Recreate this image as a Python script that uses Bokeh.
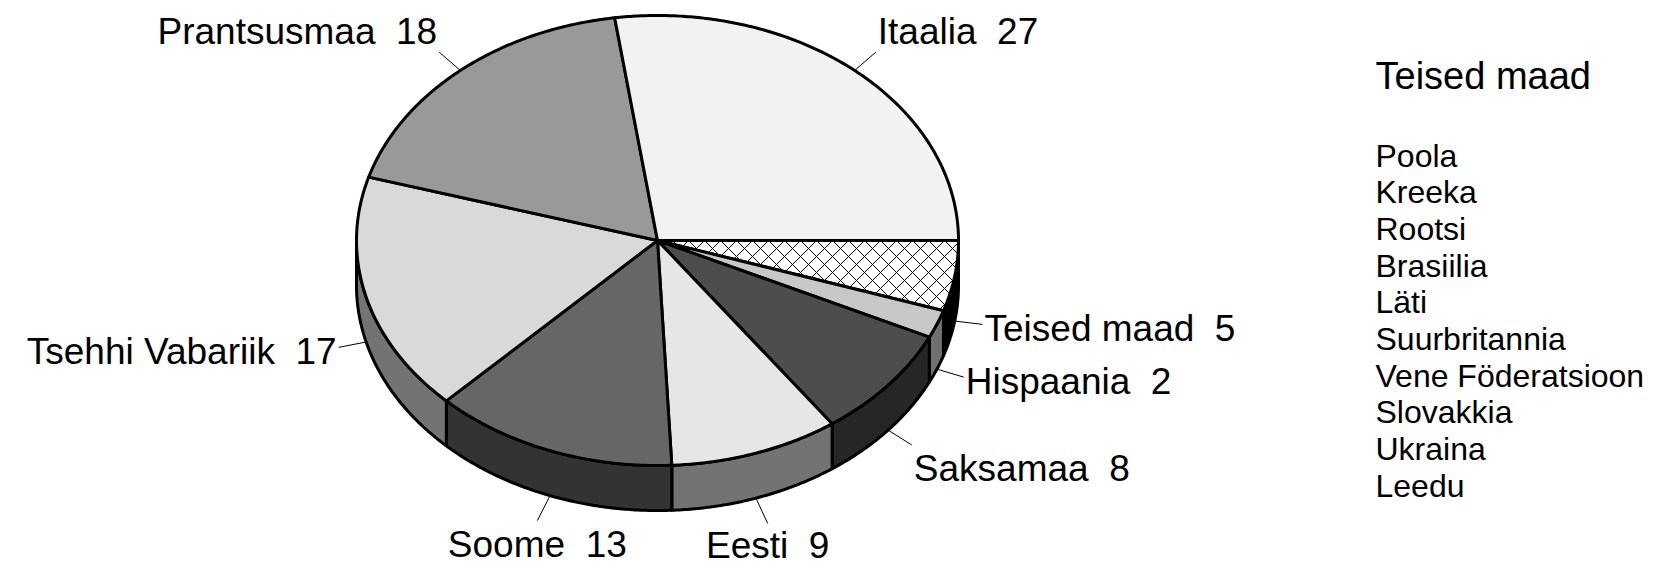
import numpy as np
from bokeh.plotting import figure
from bokeh.models import Range1d, ColumnDataSource
from bokeh.embed import file_html
from bokeh.resources import INLINE
from bokeh.core.properties import value, field

# ---- data -------------------------------------------------------------
countries = ["Teised maad", "Hispaania", "Saksamaa", "Eesti", "Soome",
             "Tsehhi Vabariik", "Prantsusmaa", "Itaalia"]
shares = [5, 2, 8, 9, 13, 17, 18, 27]
top_colors = ["#ffffff", "#c8c8c8", "#4d4d4d", "#e6e6e6", "#666666",
              "#d9d9d9", "#999999", "#f2f2f2"]
side_colors = ["#000000", "#707070", "#262626", "#737373", "#333333",
               "#737373", "#4d4d4d", "#797979"]
other_title = "Teised maad"
other_countries = ["Poola", "Kreeka", "Rootsi", "Brasiilia", "Läti",
                   "Suurbritannia", "Vene Föderatsioon", "Slovakkia",
                   "Ukraina", "Leedu"]

# ---- layout (screen-pixel space) ---------------------------------------
W, H = 1653, 566
CX, CY, RX, RY, DEPTH = 657, 240, 301, 225, 45
LEAD = 28
FONT = value("Liberation Sans")
LABEL_SIZE = 37

p = figure(width=W, height=H, x_range=Range1d(0, W), y_range=Range1d(H, 0),
           output_backend="svg", toolbar_location=None,
           x_axis_location=None, y_axis_location=None, min_border=0)
p.grid.grid_line_color = None
p.outline_line_color = None
p.background_fill_color = "white"

total = float(sum(shares))
cum = np.concatenate([[0.0], np.cumsum(shares)]) / total * 360.0


def arc(a1, a2, dy=0.0):
    n = max(int(abs(a2 - a1) * 2) + 2, 3)
    t = np.radians(np.linspace(a1, a2, n))
    return CX + RX * np.cos(t), CY + RY * np.sin(t) + dy


# sides (front half only)
sx, sy, sc = [], [], []
for i in range(len(shares)):
    s, e = max(cum[i], 0.0), min(cum[i + 1], 180.0)
    if s < e:
        x1, y1 = arc(s, e)
        x2, y2 = arc(e, s, DEPTH)
        sx.append(list(np.concatenate([x1, x2])))
        sy.append(list(np.concatenate([y1, y2])))
        sc.append(side_colors[i])
p.patches(xs=sx, ys=sy, fill_color=sc, line_color="black", line_width=3,
          line_join="round")

# tops
tx, ty, tc = [], [], []
for i in range(len(shares)):
    x1, y1 = arc(cum[i], cum[i + 1])
    tx.append([CX] + list(x1))
    ty.append([CY] + list(y1))
    tc.append(top_colors[i])
hatch = ["x" if i == 0 else " " for i in range(len(shares))]
p.patches(xs=tx, ys=ty, fill_color=tc, hatch_pattern=hatch, hatch_color="black",
          hatch_scale=16, hatch_weight=1, line_color="black", line_width=3,
          line_join="round")

# leaders and labels
lx0, ly0, lx1, ly1 = [], [], [], []
txs, tys, texts, aligns, bases = [], [], [], [], []
for i in range(len(shares)):
    mid = np.radians((cum[i] + cum[i + 1]) / 2)
    c, s = np.cos(mid), np.sin(mid)
    x0 = CX + RX * c
    y0 = CY + RY * s + (DEPTH if s > 0 else 0)
    dx, dy = RX * c, RY * s
    nrm = np.hypot(dx, dy)
    x1 = x0 + LEAD * dx / nrm
    y1 = y0 + LEAD * dy / nrm
    lx0.append(x0); ly0.append(y0); lx1.append(x1); ly1.append(y1)
    if abs(c) < 0.5:
        al = "center"
    elif c > 0:
        al = "left"
    else:
        al = "right"
    if s < -0.5:
        bl = "bottom"
    elif s > 0.6:
        bl = "top"
    else:
        bl = "middle"
    gap = 2 if al == "left" else (-2 if al == "right" else 0)
    ty_ = y1 + {"top": 3, "bottom": 0, "middle": 4}[bl]
    if bl == "top":
        ty_ = min(ty_, H - 1.13 * LABEL_SIZE)  # keep the text inside the page
    txs.append(x1 + gap)
    tys.append(ty_)
    texts.append(f"{countries[i]}\u00a0 {shares[i]}")
    aligns.append(al)
    bases.append(bl)

p.segment(x0=lx0, y0=ly0, x1=lx1, y1=ly1, line_color="black", line_width=1)
src = ColumnDataSource(dict(x=txs, y=tys, t=texts, a=aligns, b=bases))
p.text(x="x", y="y", text="t", source=src, text_align=field("a"),
       text_baseline=field("b"), text_font=FONT,
       text_font_size=f"{LABEL_SIZE}px", text_color="black")

# side list of other countries
LX = 1375
p.text(x=[LX], y=[75], text=[other_title], text_font=FONT, text_font_size="38px",
       text_baseline="middle", text_align="left", text_color="black")
ys = [155 + 36.67 * k for k in range(len(other_countries))]
p.text(x=[LX] * len(other_countries), y=ys, text=other_countries, text_font=FONT,
       text_font_size="32px", text_baseline="middle", text_align="left",
       text_color="black")

open("out.html", "w").write(file_html(p, INLINE))
